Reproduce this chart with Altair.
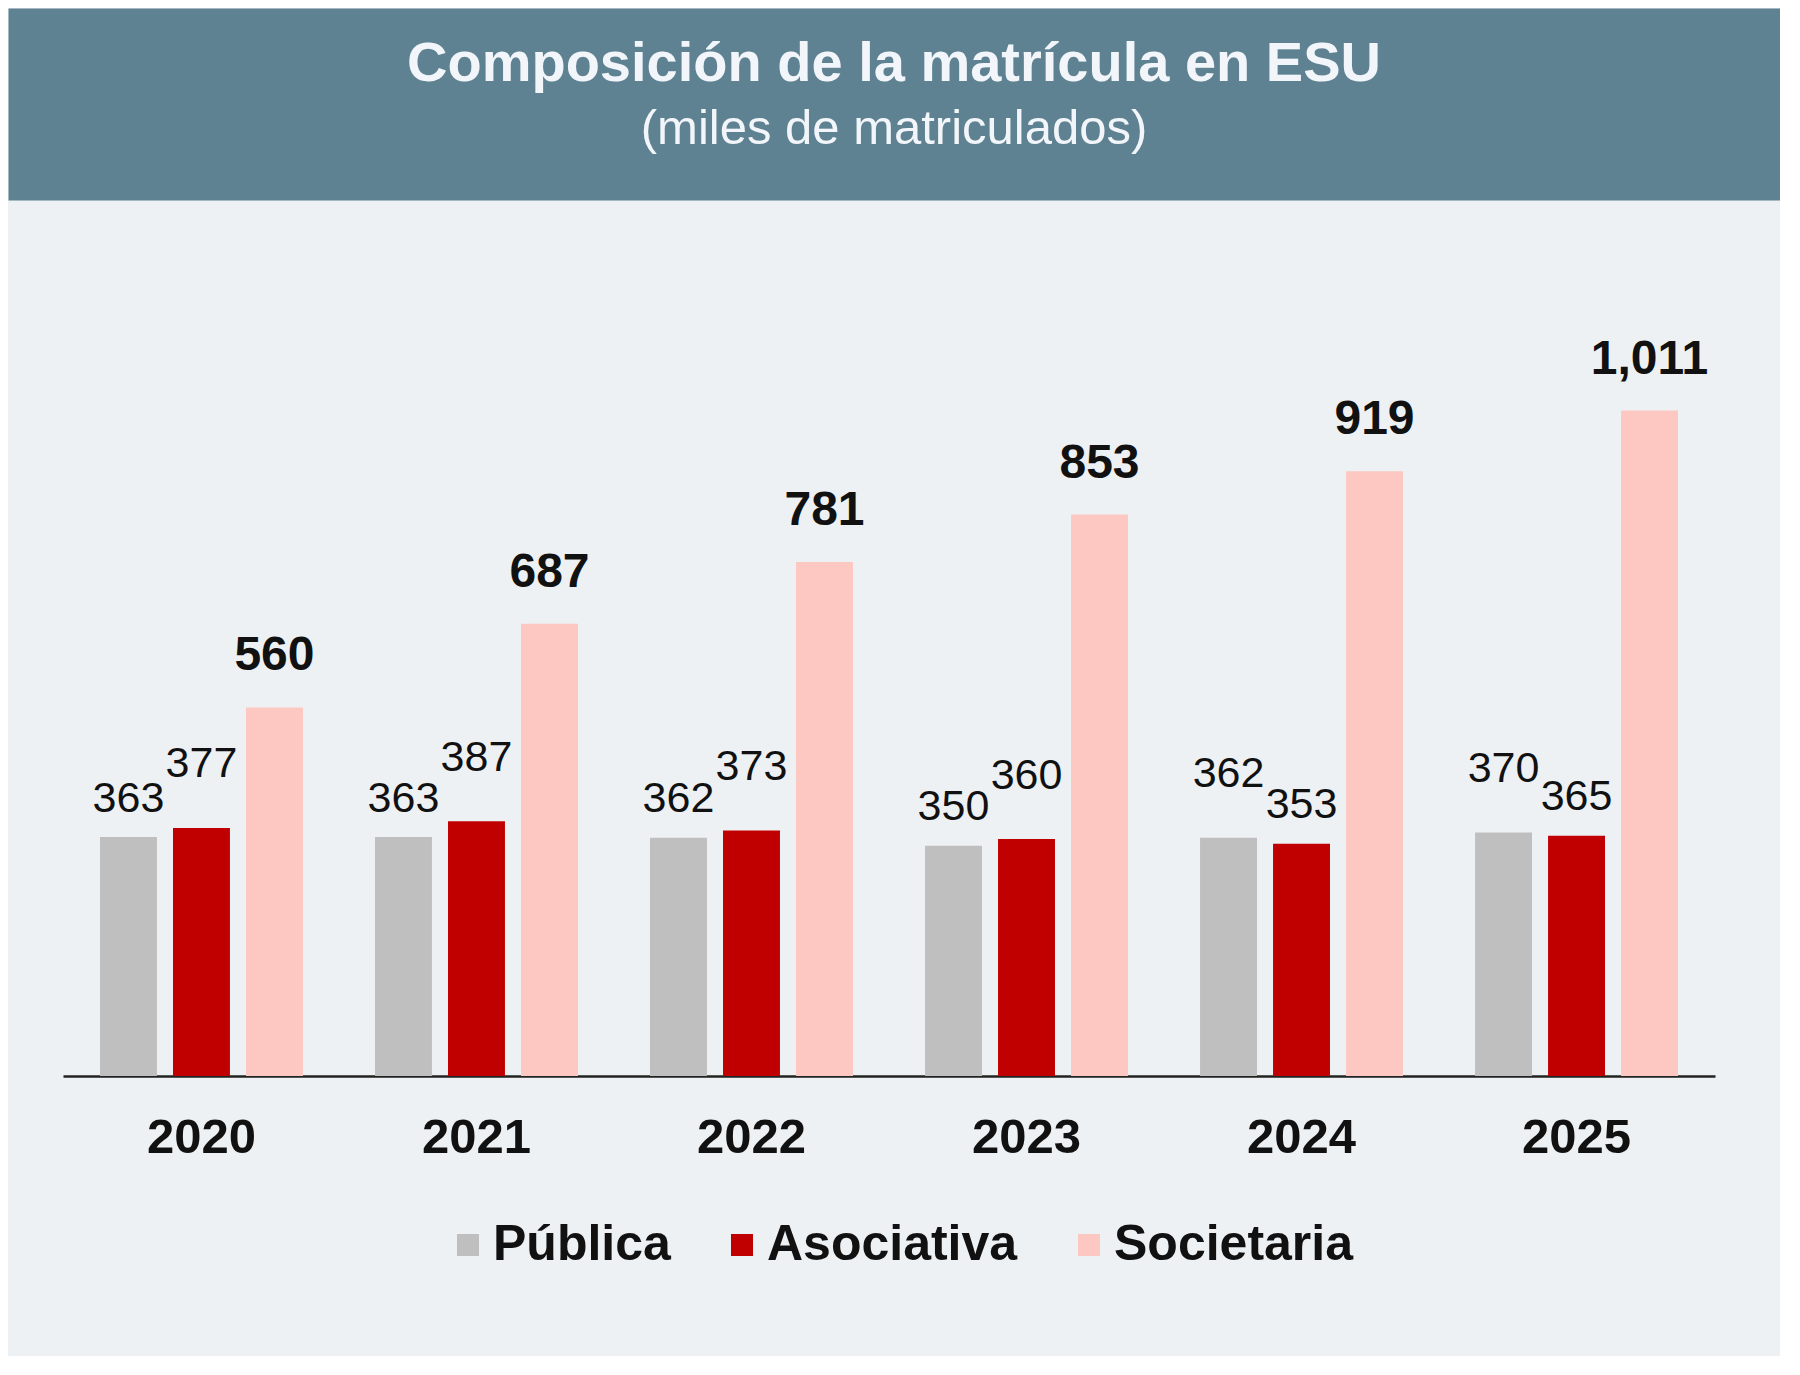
import altair as alt
import pandas as pd

# Chart data (thousands of enrolled students)
years = ["2020", "2021", "2022", "2023", "2024", "2025"]
sectors = ["Pública", "Asociativa", "Societaria"]
publica = [363, 363, 362, 350, 362, 370]
asociativa = [377, 387, 373, 360, 353, 365]
societaria = [560, 687, 781, 853, 919, 1011]

title_text = "Composición de la matrícula en ESU"
subtitle_text = "(miles de matriculados)"

colors = ["#BFBFBF", "#C00000", "#FDC8C1"]
header_fill = "#5E8292"
bg_fill = "#EEF1F4"
font = "Liberation Sans"

rows = []
for i, yr in enumerate(years):
    rows.append({"Year": yr, "Sector": "Pública", "Value": publica[i]})
    rows.append({"Year": yr, "Sector": "Asociativa", "Value": asociativa[i]})
    rows.append({"Year": yr, "Sector": "Societaria", "Value": societaria[i]})
df = pd.DataFrame(rows)
df["Label"] = df["Value"].map(lambda v: f"{v:,}")

# staggered labels for the two small bars: the larger one sits higher
small = df[df["Sector"] != "Societaria"].copy()
small["top"] = small["Value"] == small.groupby("Year")["Value"].transform("max")
upper = small[small["top"]]
lower = small[~small["top"]]
big = df[df["Sector"] == "Societaria"]

W = 1652
H = 876

x_enc = alt.X("Year:O", title=None, sort=years,
              scale=alt.Scale(paddingInner=0.262, paddingOuter=0.1345),
              axis=alt.Axis(labelAngle=0, labelFontSize=49, labelFontWeight="bold",
                            labelColor="#111111", labelFont=font, ticks=False, tickSize=0,
                            labelPadding=37, domainColor="#222222", domainWidth=2.5,
                            grid=False))
xoff_enc = alt.XOffset("Sector:N", sort=sectors,
                       scale=alt.Scale(paddingInner=0.22, paddingOuter=0))
# empty y axis on the right, only there to nudge the centred plot to the left
y_enc = alt.Y("Value:Q", title=None,
              scale=alt.Scale(domain=[0, 1331], nice=False),
              axis=alt.Axis(orient="right", labels=False, ticks=False, domain=False,
                            grid=False, minExtent=10, maxExtent=10))

bars = alt.Chart(df).mark_bar().encode(
    x=x_enc,
    xOffset=xoff_enc,
    y=y_enc,
    color=alt.Color("Sector:N", sort=sectors,
                    scale=alt.Scale(domain=sectors, range=colors),
                    legend=alt.Legend(title=None, orient="none", direction="horizontal",
                                      legendX=435, legendY=1212, symbolType="square",
                                      symbolSize=484, symbolStrokeWidth=0,
                                      labelFontSize=50, labelFontWeight="bold",
                                      labelFont=font, labelColor="#111111",
                                      labelOffset=0, columnPadding=46, padding=0,
                                      labelLimit=400)),
)

def value_labels(data, size, weight, dy):
    return alt.Chart(data).mark_text(
        fontSize=size, fontWeight=weight, font=font, color="#111111",
        baseline="middle", dy=dy
    ).encode(x=x_enc, xOffset=xoff_enc, y=y_enc, text="Label:N")

main = alt.layer(
    bars,
    value_labels(lower, 43, "normal", -38.5),
    value_labels(upper, 43, "normal", -63.5),
    value_labels(big, 48, "bold", -51),
).properties(width=W, height=H, view=alt.ViewBackground(strokeOpacity=0))

header_df = pd.DataFrame({"t": [title_text]})
sub_df = pd.DataFrame({"t": [subtitle_text]})
header = alt.layer(
    alt.Chart(header_df).mark_text(fontSize=56, fontWeight="bold", font=font,
                                   color="#F2F6FA", baseline="middle").encode(
        text="t:N", x=alt.value(886), y=alt.value(56)),
    alt.Chart(sub_df).mark_text(fontSize=49, font=font, color="#F2F6FA",
                                baseline="middle").encode(
        text="t:N", x=alt.value(886), y=alt.value(121)),
).properties(width=1772, height=192,
             view=alt.ViewBackground(fill=header_fill, strokeOpacity=0))

chart = alt.vconcat(header, main, spacing=0, center=True).properties(
    background=bg_fill,
    padding={"left": 0, "top": 0, "right": 0, "bottom": 86},
)

chart.save("out.html", embed_options={"renderer": "svg", "actions": False})
